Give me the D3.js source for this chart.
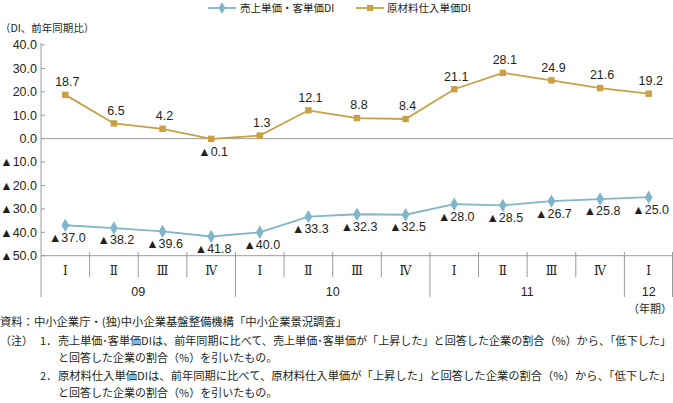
<!DOCTYPE html>
<html><head><meta charset="utf-8">
<script src="https://cdn.jsdelivr.net/npm/d3@7"></script>
<style>
body{margin:0;background:#fff;}
svg{display:block;}
text{font-family:"Liberation Sans",Arial,"Noto Sans CJK JP",sans-serif;fill:#231f20;}
.jp{font-family:"Noto Sans CJK JP",sans-serif;}
</style></head><body>
<svg id="c" width="673" height="403"></svg>
<script>
const quarters = ["Ⅰ","Ⅱ","Ⅲ","Ⅳ","Ⅰ","Ⅱ","Ⅲ","Ⅳ","Ⅰ","Ⅱ","Ⅲ","Ⅳ","Ⅰ"];
const years = [{label:"09",start:0,end:4},{label:"10",start:4,end:8},{label:"11",start:8,end:12},{label:"12",start:12,end:13}];
const salesDI = [-37.0,-38.2,-39.6,-41.8,-40.0,-33.3,-32.3,-32.5,-28.0,-28.5,-26.7,-25.8,-25.0];
const materialDI = [18.7,6.5,4.2,-0.1,1.3,12.1,8.8,8.4,21.1,28.1,24.9,21.6,19.2];
const yTicks = [40,30,20,10,0,-10,-20,-30,-40,-50];
const seriesNames = ["売上単価・客単価DI","原材料仕入単価DI"];

const blue = "#7fb6c9", gold = "#c9a043", axisCol = "#9a9a9a";
const svg = d3.select("#c");
const x = d3.scaleBand().domain(d3.range(quarters.length)).range([41,673]);
const y = d3.scaleLinear().domain([-50,40]).range([255.7,45]);
const fmt = v => (v<0?"▲":"") + Math.abs(v).toFixed(1);
const cx = i => x(i)+x.bandwidth()/2;

// y axis
svg.append("line").attr("x1",41).attr("x2",41).attr("y1",43).attr("y2",297).attr("stroke",axisCol).attr("stroke-width",1);
yTicks.forEach(t=>{
  svg.append("line").attr("x1",41).attr("x2",45).attr("y1",y(t)).attr("y2",y(t)).attr("stroke",axisCol);
  svg.append("text").attr("x",37).attr("y",y(t)).attr("dy","0.35em").attr("text-anchor","end")
    .attr("font-size",12.5).text(fmt(t));
});
// zero line and bottom line
svg.append("line").attr("x1",41).attr("x2",673).attr("y1",y(0)).attr("y2",y(0)).attr("stroke",axisCol);
svg.append("line").attr("x1",41).attr("x2",673).attr("y1",y(-50)).attr("y2",y(-50)).attr("stroke",axisCol);

// category separators
const yearStarts = new Set(years.map(d=>d.start).concat([quarters.length]));
for(let i=1;i<=quarters.length;i++){
  const xx = i<quarters.length ? x(i) : 672.5;
  const long = yearStarts.has(i);
  svg.append("line").attr("x1",xx).attr("x2",xx).attr("y1",252).attr("y2",long?297:277).attr("stroke",axisCol);
}
quarters.forEach((q,i)=>{
  svg.append("text").attr("x",cx(i)).attr("y",271).attr("dy","0.35em").attr("text-anchor","middle")
   .attr("font-size",12).style("font-family","'DejaVu Serif','Liberation Serif',serif").text(q);
});
years.forEach(d=>{
  const xm = (x(d.start) + (d.end<quarters.length?x(d.end):673))/2;
  svg.append("text").attr("x",xm).attr("y",292).attr("dy","0.35em").attr("text-anchor","middle").attr("font-size",12.5).text(d.label);
});
svg.append("text").attr("class","jp").attr("x",672).attr("y",309).attr("dy","0.35em").attr("text-anchor","end").attr("font-size",11).text("（年期）");

// lines
const line = d3.line().x((d,i)=>cx(i)).y(d=>y(d));
svg.append("path").datum(materialDI).attr("d",line).attr("fill","none").attr("stroke",gold).attr("stroke-width",1.8);
svg.append("path").datum(salesDI).attr("d",line).attr("fill","none").attr("stroke",blue).attr("stroke-width",1.8);
materialDI.forEach((v,i)=>{
  svg.append("rect").attr("x",cx(i)-3.2).attr("y",y(v)-3.2).attr("width",6.4).attr("height",6.4).attr("fill",gold);
  const below = v<0;
  svg.append("text").attr("x",cx(i)+2).attr("y",below? y(v)+13 : y(v)-13).attr("dy","0.35em").attr("text-anchor","middle")
    .attr("font-size",12.5).text(fmt(v));
});
salesDI.forEach((v,i)=>{
  svg.append("path").attr("d",d3.symbol(d3.symbolDiamond,52)()).attr("transform",`translate(${cx(i)},${y(v)})`).attr("fill",blue);
  svg.append("text").attr("x",cx(i)+2).attr("y",y(v)+12).attr("dy","0.35em").attr("text-anchor","middle")
    .attr("font-size",12.5).text(fmt(v));
});

// legend
const legY = 8;
const lg = [{name:seriesNames[0],col:blue,x1:208,x2:236,tx:240,shape:"d"},{name:seriesNames[1],col:gold,x1:356,x2:384,tx:387,shape:"s"}];
lg.forEach(l=>{
  svg.append("line").attr("x1",l.x1).attr("x2",l.x2).attr("y1",legY).attr("y2",legY).attr("stroke",l.col).attr("stroke-width",1.8);
  const m=(l.x1+l.x2)/2;
  if(l.shape==="d") svg.append("path").attr("d",d3.symbol(d3.symbolDiamond,40)()).attr("transform",`translate(${m},${legY})`).attr("fill",l.col);
  else svg.append("rect").attr("x",m-3).attr("y",legY-3).attr("width",6).attr("height",6).attr("fill",l.col);
  svg.append("text").attr("class","jp").attr("x",l.tx).attr("y",legY).attr("dy","0.35em").attr("font-size",10.5).text(l.name);
});
svg.append("text").attr("class","jp").attr("x",0).attr("y",28).attr("dy","0.35em").attr("font-size",10.5).text("（DI、前年同期比）");

// footer
const notes = [
  {x:0,y:322,t:"資料：中小企業庁・(独)中小企業基盤整備機構「中小企業景況調査」",len:347},
  {x:0,y:341,t:"（注）",len:null},
  {x:40,y:341,t:"1．",len:null},
  {x:58,y:341,t:"売上単価･客単価DIは、前年同期に比べて、売上単価･客単価が「上昇した」と回答した企業の割合（%）から、「低下した」",len:613},
  {x:58,y:358,t:"と回答した企業の割合（%）を引いたもの。",len:null},
  {x:40,y:376,t:"2．",len:null},
  {x:58,y:376,t:"原材料仕入単価DIは、前年同期に比べて、原材料仕入単価が「上昇した」と回答した企業の割合（%）から、「低下した」",len:613},
  {x:58,y:393,t:"と回答した企業の割合（%）を引いたもの。",len:null}
];
notes.forEach(n=>{
  const t = svg.append("text").attr("class","jp").attr("x",n.x).attr("y",n.y).attr("dy","0.35em").attr("font-size",11).text(n.t);
  if(n.len) t.attr("textLength",n.len).attr("lengthAdjust","spacingAndGlyphs");
});
</script></body></html>
